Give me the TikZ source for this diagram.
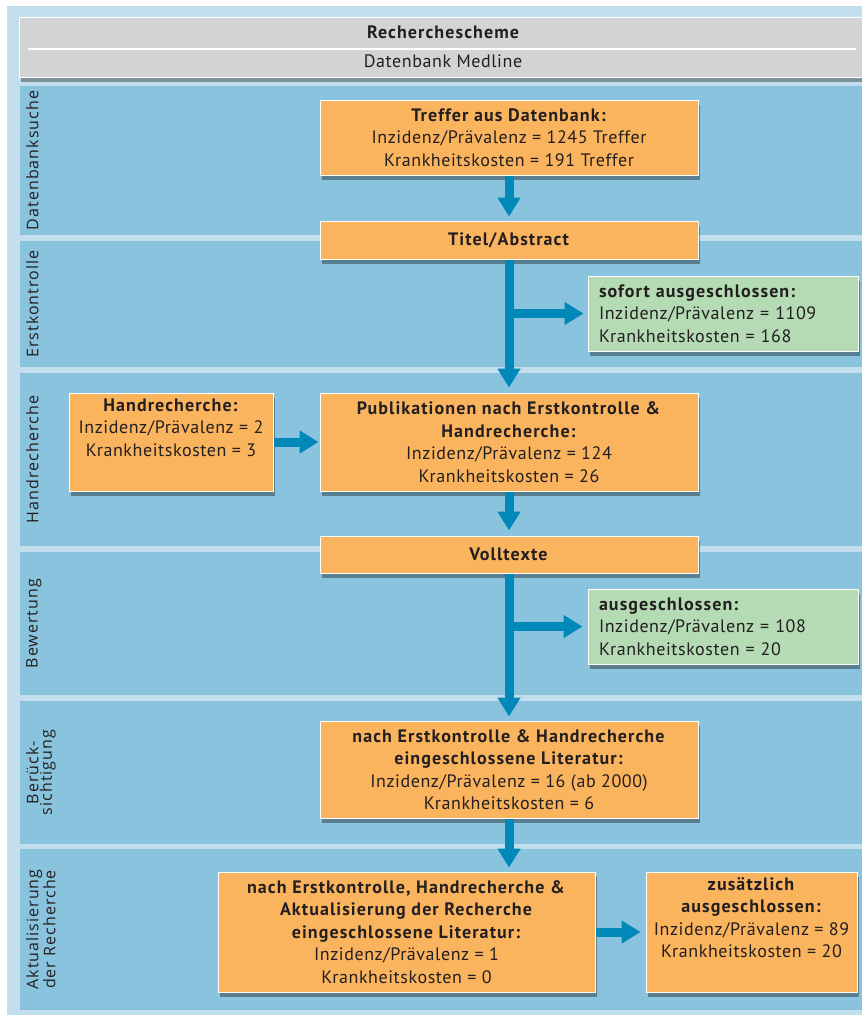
\documentclass[tikz,border=0pt]{standalone}
\usepackage{fontspec}
\setmainfont{PT Sans}[LetterSpace=3.2, BoldFeatures={LetterSpace=6}]
\newfontfamily\labelfont[LetterSpace=6.5]{Open Sans}
\usetikzlibrary{arrows.meta,shadows}
\definecolor{outerblue}{HTML}{C3DFEE}
\definecolor{bandblue}{HTML}{89C3DE}
\definecolor{hdrgray}{HTML}{D2D3D5}
\definecolor{boxorange}{HTML}{FBB45E}
\definecolor{boxgreen}{HTML}{B4DBB4}
\definecolor{arrowblue}{HTML}{0088B9}
\definecolor{txt}{HTML}{231F20}
\begin{document}
\begin{tikzpicture}[x=1pt,y=-1pt,
  every node/.style={text=txt},
  shadowed/.style={drop shadow={shadow xshift=2pt, shadow yshift=-5pt, opacity=0.35, fill=black}},
  hdr/.style={fill=hdrgray, draw=white, line width=1pt, inner sep=0pt, shadowed},
  bandlabel/.style={rotate=90, anchor=north, inner sep=0pt, align=center, font=\labelfont\fontsize{16}{13.5}\selectfont},
  box/.style={draw=white, line width=1pt, inner sep=0pt, align=center, font=\fontsize{18}{22.5}\selectfont, shadowed},
  obox/.style={box, fill=boxorange},
  gbox/.style={box, fill=boxgreen, align=left, text width=248pt, inner xsep=11pt, minimum height=75pt},
  flow/.style={draw=arrowblue, line width=9pt, -{Triangle[length=19pt,width=22pt]}},
]
\useasboundingbox (0,0) rectangle (862,1015);
\fill[outerblue] (7,6) rectangle (862,1015);

% header
\node[hdr, minimum width=850pt, minimum height=60pt] (hdr) at (444,47) {};
\draw[white, line width=1.5pt] (28,49) -- (856,49);
\node[anchor=base, inner sep=0pt, font=\fontsize{18}{22}\selectfont\bfseries] (title) at (443,38) {Recherchescheme};
\node[anchor=base, inner sep=0pt, font=\fontsize{18}{22}\selectfont] (sub) at (443,67) {Datenbank Medline};

% bands
\fill[bandblue] (20,86) rectangle (866,235);
\fill[bandblue] (20,241) rectangle (866,367);
\fill[bandblue] (20,373) rectangle (866,546);
\fill[bandblue] (20,552) rectangle (866,695);
\fill[bandblue] (20,701) rectangle (866,844);
\fill[bandblue] (20,849) rectangle (866,1010);

\node[bandlabel] (l1) at (26,160.5) {Datenbanksuche};
\node[bandlabel] (l2) at (26,304) {Erstkontrolle};
\node[bandlabel] (l3) at (26,459.5) {Handrecherche};
\node[bandlabel] (l4) at (26,623.5) {Bewertung};
\node[bandlabel] (l5) at (26,772.5) {Berück-\\sichtigung};
\node[bandlabel] (l6) at (26,929.5) {Aktualisierung\\der Recherche};

% boxes
\node[obox, minimum width=378pt, minimum height=75pt] (treffer) at (509,137.5)
  {\textbf{Treffer aus Datenbank:}\\Inzidenz/Prävalenz = 1245 Treffer\\Krankheitskosten = 191 Treffer};
\node[obox, minimum width=378pt, minimum height=38pt] (titel) at (509,240)
  {\textbf{Titel/Abstract}};
\node[gbox] (sofort) at (723,313.5)
  {\textbf{sofort ausgeschlossen:}\\Inzidenz/Prävalenz = 1109\\Krankheitskosten = 168};
\node[obox, minimum width=204pt, minimum height=98pt] (hand) at (171,442)
  {\textbf{Handrecherche:}\\Inzidenz/Prävalenz = 2\\Krankheitskosten = 3\\\strut};
\node[obox, minimum width=378pt, minimum height=98pt] (pub) at (509,442)
  {\textbf{Publikationen nach Erstkontrolle \&}\\\textbf{Handrecherche:}\\Inzidenz/Prävalenz = 124\\Krankheitskosten = 26};
\node[obox, minimum width=378pt, minimum height=37pt] (voll) at (509,554.5)
  {\textbf{Volltexte}};
\node[gbox] (aus) at (723,626.5)
  {\textbf{ausgeschlossen:}\\Inzidenz/Prävalenz = 108\\Krankheitskosten = 20};
\node[obox, minimum width=378pt, minimum height=97pt] (nach) at (509,769.5)
  {\textbf{nach Erstkontrolle \& Handrecherche}\\\textbf{eingeschlossene Literatur:}\\Inzidenz/Prävalenz = 16 (ab 2000)\\Krankheitskosten = 6};
\node[obox, minimum width=377pt, minimum height=120pt] (last) at (406.5,932)
  {\textbf{nach Erstkontrolle, Handrecherche \&}\\\textbf{Aktualisierung der Recherche}\\\textbf{eingeschlossene Literatur:}\\Inzidenz/Prävalenz = 1\\Krankheitskosten = 0};
\node[obox, minimum width=211pt, minimum height=120pt] (zus) at (751.5,932)
  {\textbf{zusätzlich}\\\textbf{ausgeschlossen:}\\Inzidenz/Prävalenz = 89\\Krankheitskosten = 20\\\strut};

% arrows
\draw[flow, shorten >=4pt] (treffer.south) -- (titel.north);
\draw[flow, shorten >=5pt] (titel.south) -- (pub.north);
\draw[flow, shorten >=4pt] (titel.south |- sofort.west) -- (sofort.west);
\draw[flow, shorten >=1pt] (hand.east) -- (pub.west);
\draw[flow, shorten >=5pt] (pub.south) -- (voll.north);
\draw[flow, shorten >=4pt] (voll.south) -- (nach.north);
\draw[flow, shorten >=5pt] (voll.south |- aus.west) -- (aus.west);
\draw[flow, shorten >=4pt] (nach.south) -- (nach.south |- last.north);
\draw[flow, shorten >=5pt] (last.east) -- (zus.west);
\end{tikzpicture}
\end{document}
